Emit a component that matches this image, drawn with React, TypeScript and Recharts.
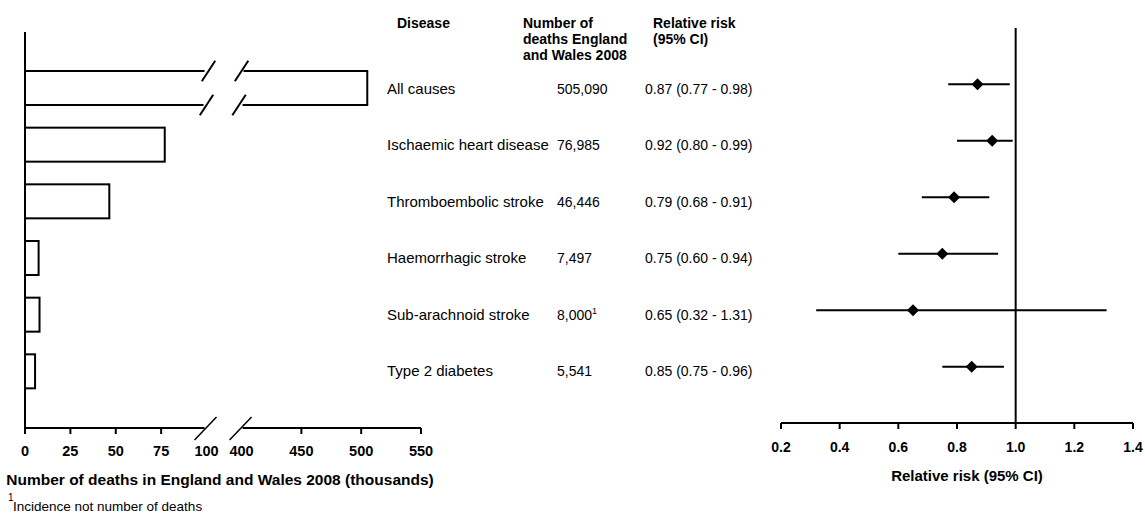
import { BarChart, Bar, XAxis, YAxis, ScatterChart, Scatter, ErrorBar, ReferenceLine } from 'recharts'

const DISEASES = [
  'All causes',
  'Ischaemic heart disease',
  'Thromboembolic stroke',
  'Haemorrhagic stroke',
  'Sub-arachnoid stroke',
  'Type 2 diabetes',
]
const DEATHS = [505090, 76985, 46446, 7497, 8000, 5541]
const INCIDENCE_ONLY = [false, false, false, false, true, false]
const RR = [0.87, 0.92, 0.79, 0.75, 0.65, 0.85]
const RR_LOW = [0.77, 0.8, 0.68, 0.6, 0.32, 0.75]
const RR_HIGH = [0.98, 0.99, 0.91, 0.94, 1.31, 0.96]

const DEATH_TICKS = [0, 25, 50, 75, 100, 400, 450, 500, 550]
const RR_TICKS = [0.2, 0.4, 0.6, 0.8, 1.0, 1.2, 1.4]

// broken x axis: 0-100 at full scale, a gap, then 400-550 squeezed
const BREAK_LO = 100
const BREAK_HI = 400
const BREAK_GAP = 19.3
const UPPER_SCALE = 0.659
const brk = (v: number) => (v <= BREAK_LO ? v : BREAK_LO + BREAK_GAP + (v - BREAK_HI) * UPPER_SCALE)
const X_MAX = brk(550)

const FONT = '"Liberation Sans", Arial, Helvetica, sans-serif'

const LEFT_W = 440
const LEFT_MARGIN = { top: 32, right: 19, bottom: 22, left: 0 }
const LEFT_YAXIS_W = 25
const PLOT_W = LEFT_W - LEFT_MARGIN.right - LEFT_MARGIN.left - LEFT_YAXIS_W
const PX_PER_UNIT = PLOT_W / X_MAX
const TICK_SIZE = 6
const DEATH_TICK_MARGIN = 12

const FOREST_LEFT = 375
const NAME_X = 12
const NUM_X = 182
const RR_X = 270

const barData = DISEASES.map((disease, i) => ({ disease, deaths: DEATHS[i] / 1000 }))
const forestData = DISEASES.map((disease, i) => ({
  disease,
  rr: RR[i],
  err: [RR[i] - RR_LOW[i], RR_HIGH[i] - RR[i]],
}))

function BreakBar(props: any) {
  const { x, y, width, height, payload } = props
  if (payload.deaths <= BREAK_LO) {
    return <rect x={x} y={y} width={width} height={height} fill="#fff" stroke="#000" strokeWidth={2} />
  }
  const tv = brk(payload.deaths)
  const b1 = x + (width * BREAK_LO) / tv
  const b2 = x + (width * brk(BREAK_HI)) / tv
  const right = x + width
  const bottom = y + height
  const slash = (cx: number, cy: number) => (
    <line x1={cx - 6.7} y1={cy + 10.3} x2={cx + 6.7} y2={cy - 10.3} />
  )
  return (
    <g stroke="#000" strokeWidth={2} fill="none">
      <rect x={x} y={y} width={width} height={height} fill="#fff" stroke="none" />
      <polyline points={`${b1 - 2},${y} ${x},${y} ${x},${bottom} ${b1 - 3},${bottom}`} />
      <polyline points={`${b2 + 2},${y} ${right},${y} ${right},${bottom} ${b2 + 1},${bottom}`} />
      {slash(b1 + 2, y)}
      {slash(b2, y)}
      {slash(b1, bottom)}
      {slash(b2 - 2.5, bottom)}
    </g>
  )
}

function DeathTick(props: any) {
  const { x, y, index } = props
  const raw = DEATH_TICKS[index]
  const axisY = y - TICK_SIZE - DEATH_TICK_MARGIN
  const gap = (brk(BREAK_HI) - BREAK_LO) * PX_PER_UNIT
  const isBreak = raw === BREAK_LO || raw === BREAK_HI
  return (
    <g>
      {raw === BREAK_LO && <rect x={x - 2} y={axisY - 3} width={gap + 3} height={6} fill="#fff" />}
      {!isBreak && <line x1={x} y1={axisY} x2={x} y2={axisY + TICK_SIZE} stroke="#000" strokeWidth={2} />}
      {isBreak && (
        <line x1={x - 12} y1={axisY + 12} x2={x + 10} y2={axisY - 11} stroke="#000" strokeWidth={1.5} />
      )}
      <text x={x} y={y} dy="0.71em" textAnchor="middle" fontSize={14.5} fontWeight="bold" fill="#000">
        {raw}
      </text>
    </g>
  )
}

function TableTick(props: any) {
  const { y, payload } = props
  const i = DISEASES.indexOf(payload.value)
  if (i < 0) return null
  const base = y + 9.5
  return (
    <g fill="#000">
      <text x={NAME_X} y={base} fontSize={15}>
        {DISEASES[i]}
      </text>
      <text x={NUM_X} y={base} fontSize={14}>
        {DEATHS[i].toLocaleString('en-US')}
        {INCIDENCE_ONLY[i] && (
          <tspan dy={-6} fontSize={9}>
            1
          </tspan>
        )}
      </text>
      <text x={RR_X} y={base} fontSize={14}>
        {`${RR[i].toFixed(2)} (${RR_LOW[i].toFixed(2)} - ${RR_HIGH[i].toFixed(2)})`}
      </text>
    </g>
  )
}

function Diamond(props: any) {
  const { cx, cy } = props
  const r = 6
  return <polygon points={`${cx},${cy - r} ${cx + r},${cy} ${cx},${cy + r} ${cx - r},${cy}`} fill="#000" />
}

const header = { position: 'absolute' as const, fontSize: 14, fontWeight: 'bold' as const, lineHeight: '16px' }

export default function App() {
  return (
    <div
      style={{
        position: 'absolute',
        left: 0,
        top: 0,
        width: 1145,
        height: 516,
        background: '#fff',
        fontFamily: FONT,
        color: '#000',
        overflow: 'hidden',
      }}
    >
      <div style={{ position: 'absolute', left: 0, top: 0 }}>
        <BarChart width={LEFT_W} height={490} data={barData} layout="vertical" margin={LEFT_MARGIN}>
          <XAxis
            type="number"
            domain={[0, X_MAX]}
            allowDataOverflow
            ticks={DEATH_TICKS.map(brk)}
            interval={0}
            height={40}
            tickSize={TICK_SIZE}
            tickMargin={DEATH_TICK_MARGIN}
            tickLine={false}
            axisLine={{ stroke: '#000', strokeWidth: 2 }}
            tick={(p: any) => <DeathTick {...p} />}
            label={{
              value: 'Number of deaths in England and Wales 2008 (thousands)',
              position: 'bottom',
              offset: 6,
              dx: -3,
              fill: '#000',
              fontSize: 15.5,
              fontWeight: 'bold',
            }}
          />
          <YAxis
            type="category"
            dataKey="disease"
            width={LEFT_YAXIS_W}
            tick={false}
            tickLine={false}
            axisLine={{ stroke: '#000', strokeWidth: 2 }}
            padding={{ top: 28, bottom: 28 }}
          />
          <Bar
            dataKey={(d: any) => brk(d.deaths)}
            barSize={34}
            fill="#fff"
            stroke="#000"
            shape={(p: any) => <BreakBar {...p} />}
            isAnimationActive={false}
          />
        </BarChart>
      </div>

      <div style={{ position: 'absolute', left: FOREST_LEFT, top: 0 }}>
        <ScatterChart width={1145 - FOREST_LEFT} height={500} margin={{ top: 28, right: 12, bottom: 37, left: 0 }}>
          <XAxis
            type="number"
            dataKey="rr"
            domain={[0.2, 1.4]}
            ticks={RR_TICKS}
            interval={0}
            allowDataOverflow
            height={40}
            tickMargin={13}
            tickFormatter={(v: number) => v.toFixed(1)}
            axisLine={{ stroke: '#000', strokeWidth: 2 }}
            tickLine={{ stroke: '#000', strokeWidth: 2 }}
            tick={{ fill: '#000', fontSize: 14, fontWeight: 'bold' }}
            label={{
              value: 'Relative risk (95% CI)',
              position: 'bottom',
              offset: 7,
              dx: 10,
              fill: '#000',
              fontSize: 15,
              fontWeight: 'bold',
            }}
          />
          <YAxis
            type="category"
            dataKey="disease"
            width={781 - FOREST_LEFT}
            interval={0}
            reversed
            axisLine={false}
            tickLine={false}
            padding={{ top: 28, bottom: 28 }}
            tick={(p: any) => <TableTick {...p} />}
          />
          <ReferenceLine x={1} stroke="#000" strokeWidth={2} />
          <Scatter data={forestData} shape={(p: any) => <Diamond {...p} />} isAnimationActive={false}>
            <ErrorBar dataKey="err" direction="x" width={0} stroke="#000" strokeWidth={2} />
          </Scatter>
        </ScatterChart>
      </div>

      <div style={{ ...header, left: 397, top: 15 }}>Disease</div>
      <div style={{ ...header, left: 523, top: 15 }}>
        Number of
        <br />
        deaths England
        <br />
        and Wales 2008
      </div>
      <div style={{ ...header, left: 653, top: 15 }}>
        Relative risk
        <br />
        (95% CI)
      </div>

      <div style={{ position: 'absolute', left: 8, top: 499, fontSize: 13.5, lineHeight: '16px', whiteSpace: 'nowrap' }}>
        <span style={{ position: 'absolute', left: 0, top: -9, fontSize: 10 }}>1</span>
        <span style={{ marginLeft: 5 }}>Incidence not number of deaths</span>
      </div>
    </div>
  )
}
